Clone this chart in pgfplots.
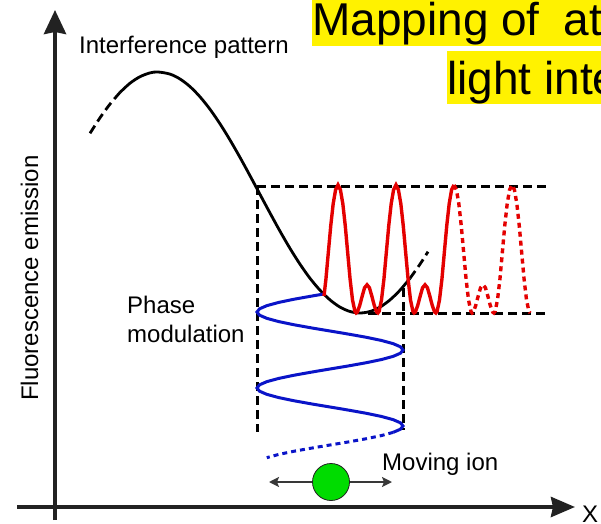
\documentclass[border=0pt]{standalone}
\usepackage{pgfplots}
\pgfplotsset{compat=1.18}
\usepackage{fontspec}
\setmainfont{Liberation Sans}
\usetikzlibrary{arrows.meta}
\definecolor{axgray}{RGB}{34,34,34}
\definecolor{wavered}{RGB}{228,0,0}
\definecolor{waveblue}{RGB}{10,20,200}
\definecolor{iongreen}{RGB}{0,220,0}
\begin{document}
\begin{tikzpicture}
\useasboundingbox (0,0) rectangle (601bp,524bp);
\clip (0,0) rectangle (601bp,524bp);
\begin{axis}[at={(0,0)}, anchor=south west, width=601bp, height=524bp, scale only axis,
  xmin=0, xmax=601, ymin=0, ymax=524, y dir=reverse, axis lines=none, clip=false]
% title
\fill[yellow] (axis cs:312,-6) rectangle (axis cs:612,46);
\fill[yellow] (axis cs:447,51) rectangle (axis cs:612,104);
\node[anchor=base west, inner sep=0pt, font=\fontsize{46bp}{52bp}\selectfont] at (axis cs:312,36) {Mapping of\hspace{11bp} at};
\node[anchor=base west, inner sep=0pt, font=\fontsize{46bp}{52bp}\selectfont] at (axis cs:447,94) {light inte};
% axes
\addplot[line width=4bp, color=axgray, -{Stealth[length=24bp,width=22bp,inset=2bp]}] coordinates {(55,520) (55,10)};
\addplot[line width=4bp, color=axgray, -{Stealth[length=24bp,width=20bp,inset=2bp]}] coordinates {(17,507) (575,507)};
\node[anchor=base, rotate=90, inner sep=0pt, font=\fontsize{24bp}{28bp}\selectfont] at (axis cs:38,278) {Fluorescence emission};
\node[anchor=base west, inner sep=0pt, font=\fontsize{24bp}{28bp}\selectfont] at (axis cs:582,522) {X};
% labels
\node[anchor=base west, inner sep=0pt, font=\fontsize{24bp}{28bp}\selectfont] at (axis cs:79,54) {Interference pattern};
\node[anchor=base west, inner sep=0pt, font=\fontsize{24bp}{28bp}\selectfont] at (axis cs:127,313) {Phase};
\node[anchor=base west, inner sep=0pt, font=\fontsize{24bp}{28bp}\selectfont] at (axis cs:127,342) {modulation};
\node[anchor=base west, inner sep=0pt, font=\fontsize{24bp}{28bp}\selectfont] at (axis cs:382,470) {Moving ion};
% dashed guide box
\addplot[black, line width=3bp, dash pattern=on 9bp off 5bp] coordinates {(257,186) (547,186)};
\addplot[black, line width=3bp, dash pattern=on 9bp off 5bp] coordinates {(257,186) (257,432)};
\addplot[black, line width=3bp, dash pattern=on 9bp off 5bp] coordinates {(368,313) (547,313)};
\addplot[black, line width=3bp, dash pattern=on 9bp off 5bp] coordinates {(403,288) (403,430)};
% interference pattern
\addplot[black, line width=2.8bp, dash pattern=on 9bp off 5bp, smooth] coordinates {(90,133.3) (100,117.8) (110,104.1) (120,92.4)};
\addplot[black, line width=2.8bp, smooth] coordinates {
(120,92.4) (130,83.2) (140,76.7) (150,72.9) (158,72.0) (170,74.1) (180,79.0) (190,86.6)
(200,96.8) (210,109.3) (220,123.8) (230,140.0) (240,157.4) (250,175.7) (260,194.4)
(270,213.0) (280,231.2) (290,248.4) (300,264.2) (310,278.3) (320,290.2) (330,299.9)
(340,307.1) (350,311.5) (360,313.0) (370,311.5) (380,307.1) (390,299.9) (400,290.2) (410,278.3)};
\addplot[black, line width=2.8bp, dash pattern=on 9bp off 5bp, smooth] coordinates {(410,278.3) (420,264.2) (428,251.7)};
% phase modulation (blue)
\addplot[waveblue, line width=3bp] coordinates {
(323.6,294.06) (311.11,296.17) (293.5,299.33) (278.38,302.5) (266.78,305.67) (259.49,308.83)
(257.0,312.0) (259.49,315.17) (266.78,318.33) (278.38,321.5) (293.5,324.67) (311.11,327.83)
(330,331.0) (348.89,334.17) (366.5,337.33) (381.62,340.5) (393.22,343.67) (400.51,346.83)
(403.0,350.0) (400.51,353.17) (393.22,356.33) (381.62,359.5) (366.5,362.67) (348.89,365.83)
(330,369.0) (311.11,372.17) (293.5,375.33) (278.38,378.5) (266.78,381.67) (259.49,384.83)
(257,388.0) (259.49,391.17) (266.78,394.33) (278.38,397.5) (293.5,400.67) (311.11,403.83)
(330,407.0) (348.89,410.17) (366.5,413.33) (381.62,416.5) (393.22,419.67) (400.51,422.83)
(403.0,426.0) (400.51,429.17) (393.22,432.33)};
\addplot[waveblue, line width=3bp, dash pattern=on 5bp off 4bp] coordinates {
(393.22,432.33) (381.62,435.5) (366.5,438.67) (348.89,441.83) (330,445) (311.11,448.17)
(293.5,451.33) (278.38,454.5) (266.78,457.67)};
% fluorescence signal (red)
\addplot[wavered, line width=3.4bp] coordinates {
(324,296) (325.92,279.1) (328.33,252.5) (330.75,225.7) (333.17,203.8) (335.58,189.8)
(338.00,185.0) (340.42,189.8) (342.83,203.8) (345.25,225.7) (347.67,252.5) (350.08,279.1)
(352.50,299.9) (354.92,311.4) (356.13,313.0) (357.33,312.1) (359.75,305.4) (362.17,296.1)
(364.58,287.7) (367.00,284.8) (369.42,287.7) (371.83,296.1) (374.25,305.4) (376.67,312.1)
(377.88,313.0) (379.08,311.4) (381.50,299.9) (383.92,279.1) (386.33,252.5) (388.75,225.7)
(391.17,203.8) (393.58,189.8) (396.00,185.0)
(398.42,189.8) (400.83,203.8) (403.25,225.7) (405.67,252.5) (408.08,279.1) (410.50,299.9)
(412.92,311.4) (414.13,313.0) (415.33,312.1) (417.75,305.4) (420.17,296.1) (422.58,287.7)
(425.00,284.8) (427.42,287.7) (429.83,296.1) (432.25,305.4) (434.67,312.1) (435.88,313.0)
(437.08,311.4) (439.50,299.9) (441.92,279.1) (444.33,252.5) (446.75,225.7) (449.17,203.8)
(451.58,189.8) (454.00,185.0)};
\addplot[wavered, line width=3.4bp, dash pattern=on 5bp off 4bp] coordinates {
(454.00,185.0) (456.42,189.8) (458.83,203.8) (461.25,225.7) (463.67,252.5) (466.08,279.1)
(468.50,299.9) (470.92,311.4) (472.13,313.0) (473.33,312.1) (475.75,305.4) (478.17,296.1)
(480.58,287.7) (483.00,284.8) (485.42,287.7) (487.83,296.1) (490.25,305.4) (492.67,312.1)
(493.88,313.0) (495.08,311.4) (497.50,299.9) (499.92,279.1) (502.33,252.5) (504.75,225.7)
(507.17,203.8) (509.58,189.8) (512.00,185.0) (514.42,189.8) (516.83,203.8) (519.25,225.7)
(521.67,252.5) (524.08,279.1) (526.50,299.9) (528.92,311.4) (530.13,313.0)};
% moving ion
\addplot[axgray!90, line width=1.8bp, {Stealth[length=10bp,width=10bp,inset=2bp]}-{Stealth[length=10bp,width=10bp,inset=2bp]}] coordinates {(269,482) (392,482)};
\addplot[only marks, mark=*, mark size=18.5bp, mark options={fill=iongreen, draw=axgray, line width=0.8bp}] coordinates {(331,482)};
\end{axis}
\end{tikzpicture}
\end{document}
